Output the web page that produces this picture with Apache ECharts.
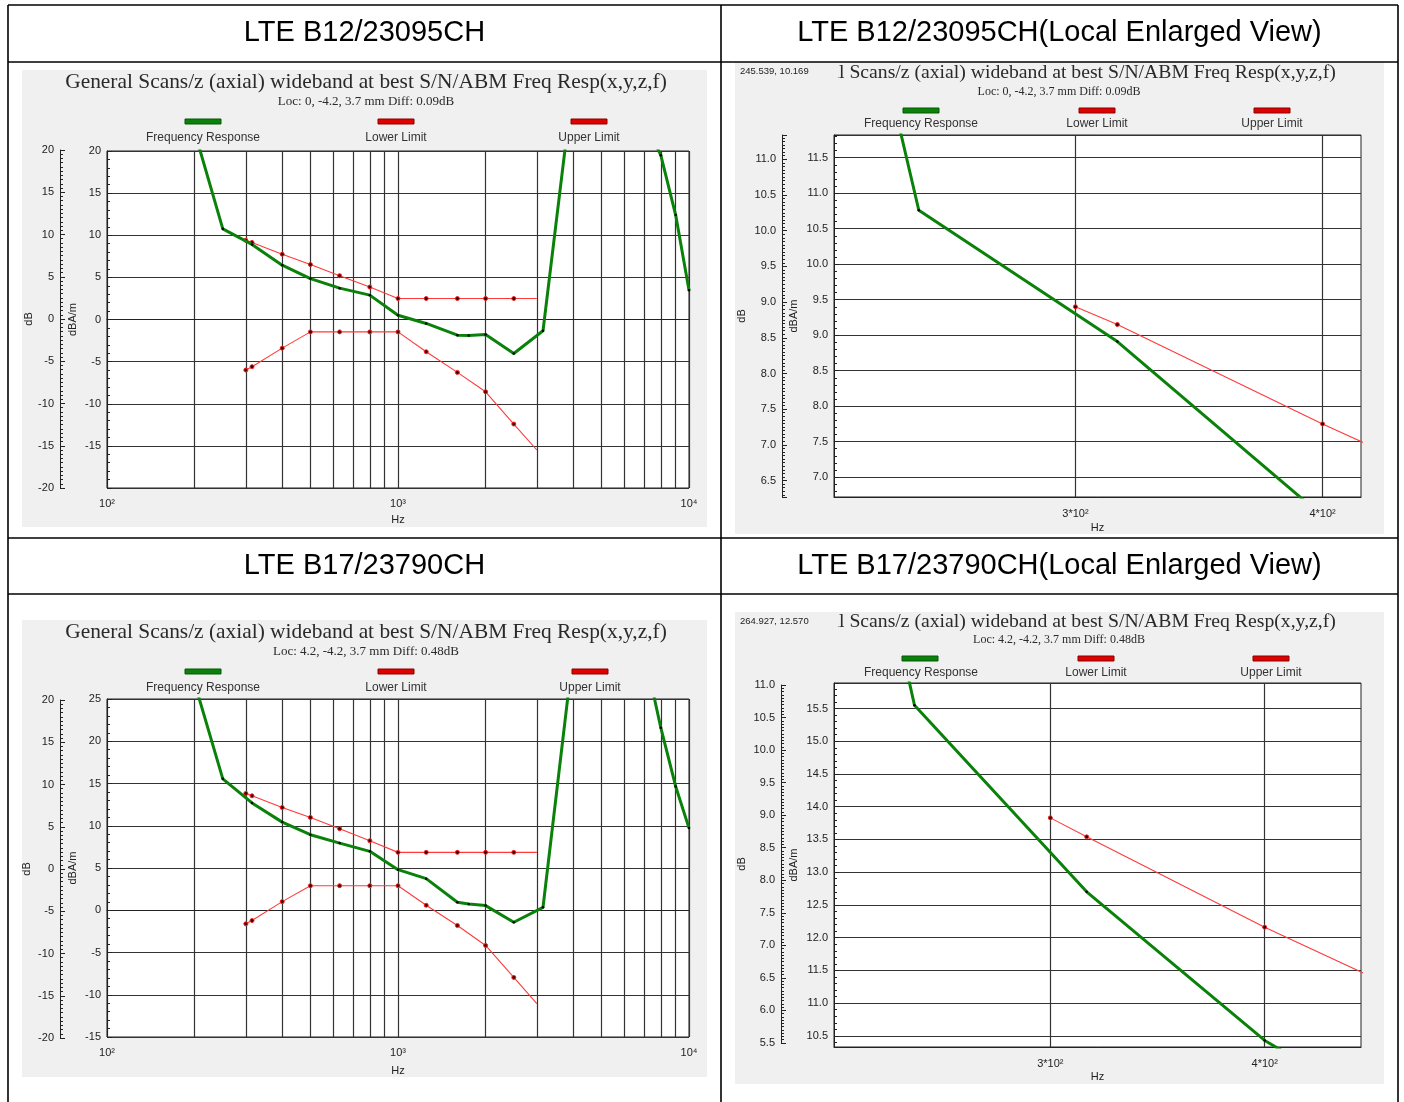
<!DOCTYPE html>
<html>
<head>
<meta charset="utf-8">
<title>LTE B12 / B17 frequency response</title>
<script src="https://cdn.jsdelivr.net/npm/echarts@6/dist/echarts.min.js"></script>
<style>
  html, body { margin: 0; padding: 0; background: #fff; }
  #chart { width: 1404px; height: 1102px; }
</style>
</head>
<body>
<div id="chart"></div>
<script>
// measured response points (Hz)
const respFreqs = [200, 250, 315, 400, 500, 630, 800, 1000, 1250, 1600, 1750, 2000, 2500, 3150, 4000, 6300, 8000, 9000, 10000];
const b12Resp = [22.3, 10.76, 8.91, 6.45, 4.86, 3.72, 2.89, 0.51, -0.47, -1.86, -1.9, -1.78, -4.03, -1.34, 28.2, 27, 19.5, 12.4, 3.48];
const b17Resp = [26.9, 15.55, 12.7, 10.43, 8.94, 7.95, 6.97, 4.8, 3.74, 0.94, 0.75, 0.55, -1.42, 0.35, 30.6, 38, 21.6, 14.65, 9.72];

// limit mask points (Hz)
const limitFreqs = [300, 315, 400, 500, 630, 800, 1000, 1250, 1600, 2000, 2500, 3000];
const b12Lower = [-6.0, -5.6, -3.4, -1.47, -1.47, -1.47, -1.47, -3.83, -6.28, -8.58, -12.41, -15.49];
const b12Upper = [9.4, 9.15, 7.75, 6.52, 5.2, 3.85, 2.49, 2.49, 2.49, 2.49, 2.49, 2.49];
const b17Lower = [-1.61, -1.22, 1.02, 2.9, 2.9, 2.9, 2.9, 0.59, -1.81, -4.17, -7.95, -11.06];
const b17Upper = [13.83, 13.54, 12.16, 10.98, 9.65, 8.23, 6.85, 6.85, 6.85, 6.85, 6.85, 6.85];

// x grid lines and tick labels
const fullGridFreqs = [100, 200, 300, 400, 500, 600, 700, 800, 900, 1000, 2000, 3000, 4000, 5000, 6000, 7000, 8000, 9000, 10000];
const fullLabelFreqs = [100, 1000, 10000];
const zoomLabelFreqs = [300, 400];

const sup = { 2: '\u00b2', 3: '\u00b3', 4: '\u2074' };
const fullLabel = v => '10' + sup[Math.round(Math.log10(v))];
const zoomLabel = v => Math.round(v / 100) + '*10\u00b2';

const SANS = "'Liberation Sans', Arial, sans-serif";
const SERIF = "'Liberation Serif', 'Times New Roman', serif";
const TITLE = 'General Scans/z (axial) wideband at best S/N/ABM Freq Resp(x,y,z,f)';

// gaps: [dB name, dBA/m name, Hz name, x label margin]
const panels = [
  { resp: b12Resp, lower: b12Lower, upper: b12Upper, zoom: false,
    plot: { left: 107, top: 151, width: 582, height: 337 }, x: [100, 10000], y: [-20, 20], step: 5, hideEnds: [true, false],
    db: { left: 60, top: 150, height: 338, min: -20, max: 20, step: 5 }, gaps: [26, 29, 26, 10] },
  { resp: b12Resp, lower: b12Lower, upper: b12Upper, zoom: true,
    plot: { left: 834, top: 135, width: 527, height: 362 }, x: [226.5, 418.3], y: [6.72, 11.82], step: 0.5, hideEnds: [true, true],
    db: { left: 782, top: 135, height: 362, min: 6.27, max: 11.34, step: 0.5 }, gaps: [35, 35, 25, 11] },
  { resp: b17Resp, lower: b17Lower, upper: b17Upper, zoom: false,
    plot: { left: 107, top: 699, width: 582, height: 338 }, x: [100, 10000], y: [-15, 25], step: 5, hideEnds: [false, false],
    db: { left: 60, top: 700, height: 338, min: -20, max: 20, step: 5 }, gaps: [28, 29, 28, 10] },
  { resp: b17Resp, lower: b17Lower, upper: b17Upper, zoom: true,
    plot: { left: 834, top: 683, width: 527, height: 364 }, x: [224.4, 455.2], y: [10.33, 15.89], step: 0.5, hideEnds: [true, true],
    db: { left: 781, top: 685, height: 358, min: 5.5, max: 11.0, step: 0.5 }, gaps: [34, 35, 24, 11] }
];

function pts(xs, ys, dropLastMark) {
  return xs.map((x, i) => (dropLastMark && i === xs.length - 1)
    ? { value: [x, ys[i]], symbol: 'none' } : [x, ys[i]]);
}

const grid = [], xAxis = [], yAxis = [], series = [];
const labelStyle = { fontSize: 11, color: '#222', fontFamily: SANS };

panels.forEach((p, i) => {
  const gm = 2 * i, gd = 2 * i + 1;
  grid.push(Object.assign({ show: true, backgroundColor: '#fff', borderColor: '#222', borderWidth: 1 }, p.plot));
  grid.push({ show: false, left: p.db.left, top: p.db.top, width: 1, height: p.db.height });

  xAxis.push({
    type: 'log', logBase: 10, gridIndex: gm, min: p.x[0], max: p.x[1],
    name: 'Hz', nameLocation: 'middle', nameGap: p.gaps[2], nameTextStyle: labelStyle,
    axisLine: { lineStyle: { color: '#222', width: 1 } },
    axisTick: { show: false, customValues: p.zoom ? zoomLabelFreqs : fullGridFreqs },
    axisLabel: Object.assign({ customValues: p.zoom ? zoomLabelFreqs : fullLabelFreqs,
      formatter: p.zoom ? zoomLabel : fullLabel, margin: p.gaps[3] }, labelStyle),
    splitLine: { show: true, lineStyle: { color: '#333', width: 1.2 } }
  });
  xAxis.push({ type: 'value', gridIndex: gd, show: false, min: 0, max: 1 });

  yAxis.push({
    type: 'value', gridIndex: gm, position: 'left', min: p.y[0], max: p.y[1],
    minInterval: p.step, maxInterval: p.step,
    name: 'dBA/m', nameLocation: 'middle', nameGap: p.gaps[1], nameTextStyle: labelStyle,
    axisLine: { show: true, lineStyle: { color: '#222', width: 1 } },
    axisTick: { show: true, inside: true, length: 5, lineStyle: { color: '#222' } },
    minorTick: { show: true, splitNumber: 5, length: 3, lineStyle: { color: '#222' } },
    axisLabel: Object.assign({ margin: 6, showMinLabel: !p.hideEnds[0], showMaxLabel: !p.hideEnds[1],
      formatter: v => p.zoom ? v.toFixed(1) : String(v) }, labelStyle),
    splitLine: { show: true, lineStyle: { color: '#333', width: 1.2 } }
  });
  yAxis.push({
    type: 'value', gridIndex: gd, position: 'left', min: p.db.min, max: p.db.max,
    minInterval: p.db.step, maxInterval: p.db.step,
    name: 'dB', nameLocation: 'middle', nameGap: p.gaps[0], nameTextStyle: labelStyle,
    axisLine: { show: true, lineStyle: { color: '#222', width: 1 } },
    axisTick: { show: true, inside: true, length: 5, lineStyle: { color: '#222' } },
    minorTick: { show: true, splitNumber: 10, length: 3, lineStyle: { color: '#222' } },
    axisLabel: Object.assign({ margin: 6, showMinLabel: p.zoom ? p.db.min % 0.5 === 0 : true, showMaxLabel: p.zoom ? p.db.max % 0.5 === 0 : true,
      formatter: v => p.zoom ? v.toFixed(1) : String(v) }, labelStyle),
    splitLine: { show: false }
  });

  const red = {
    type: 'line', xAxisIndex: gm, yAxisIndex: gm, z: 3, symbol: 'circle', symbolSize: 4,
    lineStyle: { color: '#ff3a3a', width: 1.1 },
    itemStyle: { color: '#300', borderColor: '#ff2020', borderWidth: 1 }
  };
  series.push(Object.assign({ name: 'Lower Limit', data: pts(limitFreqs, p.lower, true) }, red));
  series.push(Object.assign({ name: 'Upper Limit', data: pts(limitFreqs, p.upper, true) }, red));
  series.push({
    name: 'Frequency Response', type: 'line', xAxisIndex: gm, yAxisIndex: gm, z: 4,
    data: pts(respFreqs, p.resp, false), symbol: 'circle', symbolSize: 2.5,
    lineStyle: { color: '#0a820a', width: 3 }, itemStyle: { color: '#000' }
  });
});

// table, panel backgrounds, titles and legends
const graphic = [];
[[22, 70, 685, 457], [735, 62, 649, 472], [22, 620, 685, 457], [735, 612, 649, 472]].forEach(r => {
  graphic.push({ type: 'rect', z: -10, shape: { x: r[0], y: r[1], width: r[2], height: r[3] }, style: { fill: '#f0f0f0' } });
});
[[8, 5, 8, 1102], [721, 5, 721, 1102], [1398, 5, 1398, 1102],
 [8, 5, 1398, 5], [8, 62, 1398, 62], [8, 538, 1398, 538], [8, 594, 1398, 594]].forEach(l => {
  graphic.push({ type: 'line', z: 20, shape: { x1: l[0], y1: l[1], x2: l[2], y2: l[3] }, style: { stroke: '#000', lineWidth: 1.6 } });
});
[['LTE B12/23095CH', 364.5, 33], ['LTE B12/23095CH(Local Enlarged View)', 1059.5, 33],
 ['LTE B17/23790CH', 364.5, 566], ['LTE B17/23790CH(Local Enlarged View)', 1059.5, 566]].forEach(h => {
  graphic.push({ type: 'text', z: 20, style: { text: h[0], x: h[1], y: h[2], align: 'center', verticalAlign: 'middle', font: '29px ' + SANS, fill: '#000' } });
});

const heads = [
  { cx: 366, ty: 82, sy: 102, ts: 21.4, ss: 13, loc: 'Loc: 0, -4.2, 3.7 mm Diff: 0.09dB',
    bars: [185, 378, 571], barY: 119, txt: [203, 396, 589], txtY: 138 },
  { cx: 1059, ty: 73, sy: 92, ts: 19.7, ss: 12, loc: 'Loc: 0, -4.2, 3.7 mm Diff: 0.09dB',
    bars: [903, 1079, 1254], barY: 108, txt: [921, 1097, 1272], txtY: 124, cover: [62, 16.5], coord: '245.539, 10.169' },
  { cx: 366, ty: 632, sy: 652, ts: 21.4, ss: 13, loc: 'Loc: 4.2, -4.2, 3.7 mm Diff: 0.48dB',
    bars: [185, 378, 572], barY: 669, txt: [203, 396, 590], txtY: 688 },
  { cx: 1059, ty: 622, sy: 640, ts: 19.7, ss: 12, loc: 'Loc: 4.2, -4.2, 3.7 mm Diff: 0.48dB',
    bars: [902, 1078, 1253], barY: 656, txt: [921, 1096, 1271], txtY: 673, cover: [612, 16], coord: '264.927, 12.570' }
];
const legendNames = ['Frequency Response', 'Lower Limit', 'Upper Limit'];
const legendFill = ['#0b800b', '#e00000', '#e00000'];
const legendEdge = ['#045a04', '#8a0000', '#8a0000'];
heads.forEach(h => {
  graphic.push({ type: 'text', z: 10, style: { text: TITLE, x: h.cx, y: h.ty, align: 'center', verticalAlign: 'middle', font: h.ts + 'px ' + SERIF, fill: '#2a2a2a' } });
  graphic.push({ type: 'text', z: 10, style: { text: h.loc, x: h.cx, y: h.sy, align: 'center', verticalAlign: 'middle', font: h.ss + 'px ' + SERIF, fill: '#2a2a2a' } });
  legendNames.forEach((n, k) => {
    graphic.push({ type: 'rect', z: 10, shape: { x: h.bars[k], y: h.barY, width: 36, height: 5 }, style: { fill: legendFill[k], stroke: legendEdge[k], lineWidth: 1 } });
    graphic.push({ type: 'text', z: 10, style: { text: n, x: h.txt[k], y: h.txtY, align: 'center', verticalAlign: 'middle', font: '12px ' + SANS, fill: '#333' } });
  });
  if (h.cover) {
    graphic.push({ type: 'rect', z: 11, shape: { x: 737, y: h.cover[0], width: 101, height: h.cover[1] }, style: { fill: '#f0f0f0' } });
    graphic.push({ type: 'text', z: 12, style: { text: h.coord, x: 740, y: h.cover[0] + 9, verticalAlign: 'middle', font: '9.5px ' + SANS, fill: '#222' } });
  }
});

const chart = echarts.init(document.getElementById('chart'));
chart.setOption({
  animation: false,
  backgroundColor: '#fff',
  textStyle: { fontFamily: SANS },
  grid, xAxis, yAxis, series, graphic
});
</script>
</body>
</html>
